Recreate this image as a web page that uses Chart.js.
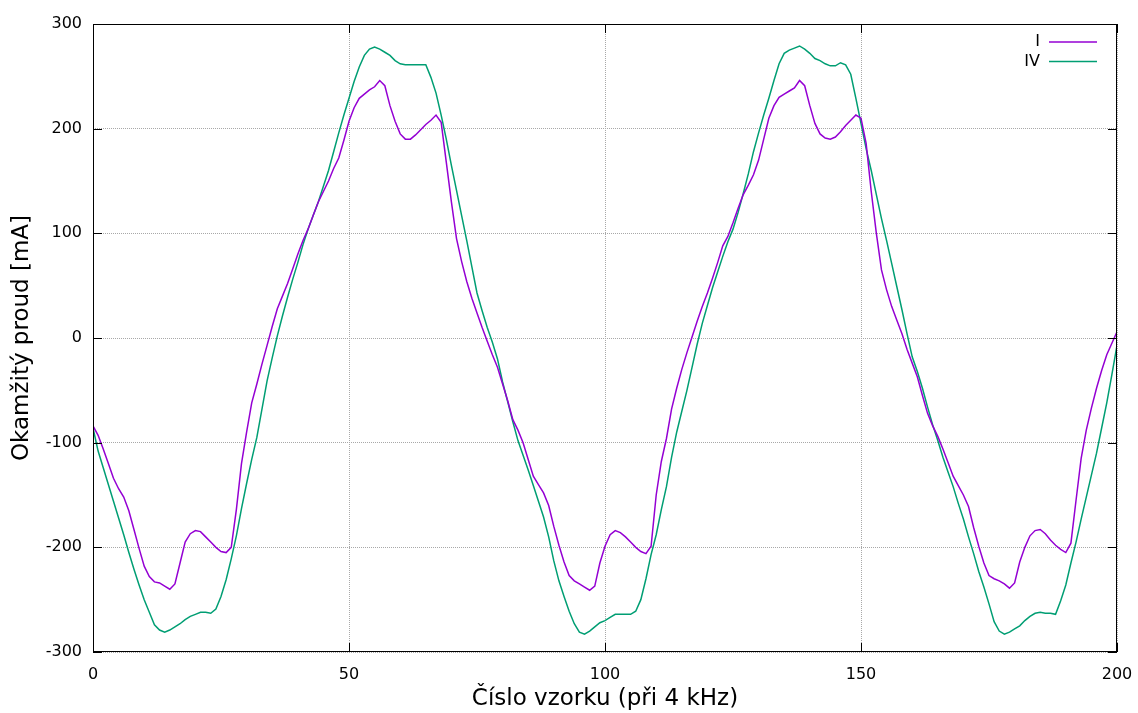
<!DOCTYPE html>
<html>
<head>
<meta charset="utf-8">
<script src="https://cdn.jsdelivr.net/npm/chart.js@4/dist/chart.umd.min.js"></script>
<style>
  body { margin: 0; background: #fff; }
</style>
</head>
<body>
<canvas id="myChart" width="1138" height="713"></canvas>
<script>
// sample numbers 0..200 (x axis)
const samples = Array.from({ length: 201 }, (_, i) => i);

// series I (mA)
const seriesI = [
  -84, -93, -106, -120, -134, -144, -152, -165, -183, -201,
  -218, -228, -233, -234, -237, -240, -235, -215, -195, -187,
  -184, -185, -190, -195, -200, -204, -205, -200, -164, -120,
  -90, -62, -44, -25, -7, 11, 28, 40, 52, 66,
  80, 93, 104, 117, 130, 140, 150, 162, 172, 189,
  207, 220, 229, 233, 237, 240, 246, 241, 222, 207,
  195, 190, 190, 194, 199, 204, 208, 213, 206, 168,
  130, 95, 73, 54, 38, 24, 10, -3, -16, -28,
  -44, -60, -78, -88, -100, -116, -132, -140, -148, -160,
  -180, -198, -214, -227, -232, -235, -238, -241, -237, -215,
  -199, -188, -184, -186, -190, -195, -200, -204, -206, -199,
  -150, -118, -96, -68, -48, -30, -14, 1, 16, 30,
  43, 57, 72, 88, 97, 110, 124, 137, 146, 156,
  170, 190, 210, 222, 230, 233, 236, 239, 246, 241,
  222, 205, 195, 191, 190, 192, 197, 203, 208, 213,
  210, 186, 140, 100, 65, 46, 30, 17, 4, -11,
  -24, -37, -55, -72, -84, -94, -106, -119, -132, -141,
  -150, -161, -181, -199, -215, -227, -230, -232, -235, -239,
  -234, -214, -200, -189, -184, -183, -187, -193, -198, -202,
  -205, -196, -155, -115, -88, -67, -48, -31, -16, -5,
  6
];

// series IV (mA)
const seriesIV = [
  -86, -108, -124, -140, -156, -172, -188, -205, -221, -236,
  -250, -262, -274, -279, -281, -279, -276, -273, -269, -266,
  -264, -262, -262, -263, -259, -247, -231, -211, -189, -163,
  -139, -116, -95, -68, -41, -19, 2, 21, 39, 56,
  72, 89, 104, 117, 130, 145, 160, 178, 196, 213,
  229, 245, 259, 270, 276, 278, 276, 273, 270, 265,
  262, 261, 261, 261, 261, 261, 249, 234, 213, 190,
  165, 141, 117, 93, 68, 43, 26, 10, -4, -20,
  -42, -61, -80, -98, -112, -126, -141, -156, -171, -190,
  -213, -232, -247, -261, -273, -281, -283, -280, -276, -272,
  -270, -267, -264, -264, -264, -264, -261, -250, -230, -207,
  -188, -164, -142, -114, -90, -70, -50, -28, -6, 14,
  31, 48, 63, 78, 92, 104, 120, 138, 157, 178,
  196, 213, 229, 246, 262, 272, 275, 277, 279, 276,
  272, 267, 265, 262, 260, 260, 263, 261, 252, 229,
  205, 181, 160, 137, 114, 93, 71, 49, 27, 4,
  -18, -32, -48, -66, -83, -98, -114, -128, -142, -158,
  -173, -190, -206, -223, -238, -254, -271, -280, -283, -281,
  -278, -275, -270, -266, -263, -262, -263, -263, -264, -251,
  -236, -215, -195, -173, -152, -131, -110, -86, -62, -35,
  -7
];

const seriesNames = ['I', 'IV'];
const seriesColors = ['#9400d3', '#009e73'];
const xTicks = [0, 50, 100, 150, 200];
const yTicks = [-300, -200, -100, 0, 100, 200, 300];

const FONT = 'DejaVu Sans';

const toPoints = (values) => values.map((v, i) => ({ x: samples[i], y: v }));

// gnuplot-like frame with inward ticks on all four sides
const framePlugin = {
  id: 'frame',
  afterDraw(chart) {
    const { ctx, chartArea: a, scales } = chart;
    ctx.save();
    ctx.strokeStyle = '#000';
    ctx.lineWidth = 1;
    ctx.strokeRect(a.left + 0.5, a.top + 0.5, a.right - a.left - 1, a.bottom - a.top - 1);
    ctx.beginPath();
    for (const t of xTicks) {
      const px = Math.round(scales.x.getPixelForValue(t)) + 0.5;
      ctx.moveTo(px, a.bottom);
      ctx.lineTo(px, a.bottom - 9);
      ctx.moveTo(px, a.top);
      ctx.lineTo(px, a.top + 9);
    }
    for (const t of yTicks) {
      const py = Math.round(scales.y.getPixelForValue(t)) + 0.5;
      ctx.moveTo(a.left, py);
      ctx.lineTo(a.left + 9, py);
      ctx.moveTo(a.right, py);
      ctx.lineTo(a.right - 9, py);
    }
    ctx.stroke();
    ctx.restore();
  }
};

// key in the top-right corner: label, then line sample
const keyPlugin = {
  id: 'key',
  afterDraw(chart) {
    const { ctx } = chart;
    ctx.save();
    ctx.font = '16px "' + FONT + '"';
    ctx.textAlign = 'right';
    ctx.textBaseline = 'middle';
    chart.data.datasets.forEach((ds, k) => {
      const y = 42 + k * 19.5;
      ctx.fillStyle = '#000';
      ctx.fillText(ds.label, 1040, y);
      ctx.strokeStyle = ds.borderColor;
      ctx.lineWidth = 1.5;
      ctx.beginPath();
      ctx.moveTo(1049, y);
      ctx.lineTo(1097, y);
      ctx.stroke();
    });
    ctx.restore();
  }
};

const ctx = document.getElementById('myChart').getContext('2d');
const chart = new Chart(ctx, {
  type: 'line',
  data: {
    datasets: [
      {
        label: seriesNames[0],
        data: toPoints(seriesI),
        borderColor: seriesColors[0],
        borderWidth: 1.5,
        pointRadius: 0,
        tension: 0,
        fill: false
      },
      {
        label: seriesNames[1],
        data: toPoints(seriesIV),
        borderColor: seriesColors[1],
        borderWidth: 1.5,
        pointRadius: 0,
        tension: 0,
        fill: false
      }
    ]
  },
  options: {
    responsive: false,
    animation: false,
    devicePixelRatio: 1,
    layout: { padding: { left: 0, top: 24, right: 21, bottom: 0 } },
    plugins: {
      legend: { display: false },
      tooltip: { enabled: false }
    },
    scales: {
      x: {
        type: 'linear',
        min: 0,
        max: 200,
        afterFit: (s) => {
          s.height = 61;
          s.paddingLeft = 0;
          s.paddingRight = 0;
        },
        afterBuildTicks: (s) => { s.ticks = xTicks.map(v => ({ value: v })); },
        ticks: {
          padding: 13,
          color: '#000',
          font: { family: FONT, size: 16 },
          maxRotation: 0
        },
        grid: { color: '#a8a8a8', lineWidth: 1, drawTicks: false },
        border: { display: false, dash: [1, 1] },
        title: {
          display: true,
          text: 'Číslo vzorku (při 4 kHz)',
          color: '#000',
          font: { family: FONT, size: 23 },
          padding: { top: 0, bottom: 0 }
        }
      },
      y: {
        min: -300,
        max: 300,
        afterFit: (s) => {
          s.width = 93;
          s.paddingTop = 0;
          s.paddingBottom = 0;
        },
        afterBuildTicks: (s) => { s.ticks = yTicks.map(v => ({ value: v })); },
        ticks: {
          padding: 11,
          color: '#000',
          font: { family: FONT, size: 16 }
        },
        grid: { color: '#a8a8a8', lineWidth: 1, drawTicks: false },
        border: { display: false, dash: [1, 1] },
        title: {
          display: true,
          text: 'Okamžitý proud [mA]',
          color: '#000',
          font: { family: FONT, size: 23 },
          padding: { top: 8, bottom: 0 }
        }
      }
    }
  },
  plugins: [framePlugin, keyPlugin]
});
</script>
</body>
</html>
